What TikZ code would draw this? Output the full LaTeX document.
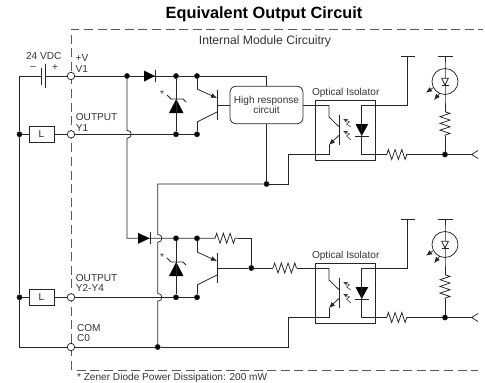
\documentclass[tikz,border=0pt]{standalone}
\usepackage{fontspec}
\setmainfont{Liberation Sans}
\usetikzlibrary{shapes,arrows.meta,decorations.pathmorphing}

\begin{document}
\begin{tikzpicture}[x=1pt,y=-1pt,
                every path/.style={line width=.75pt,color=black!85,>={Latex[length=6pt,width=5pt]}},
                term/.style={draw,circle,fill=white,inner sep=0pt,minimum size=7.5pt},
                dot/.style={draw,circle,fill=black,inner sep=0pt,minimum size=5pt},
                lbox/.style={draw,rectangle,inner sep=0pt,minimum width=25pt,minimum height=15.5pt,font=\fontsize{10}{12}\selectfont},
                lbl/.style={inner sep=0pt,anchor=west,text=black!80,font=\fontsize{10.1}{12}\selectfont},
                res/.style={decorate,decoration={zigzag,segment length=6.7pt,amplitude=5pt}},
                frame/.style={draw=black!65,dash pattern=on 9pt off 4.6pt},
                solid fill/.style={fill=black,draw=none}]
  \useasboundingbox (0,0) rectangle (485,383);
  \draw[frame] (71,370) -- (71,29.3) -- (483,29.3);
  \draw[frame] (76.7,370) -- (478,370);
  \node[lbl,anchor=center,font=\fontsize{16.3}{18}\selectfont\bfseries,text=black] (title) at (264,14.2) {Equivalent Output Circuit};
  \node[lbl,anchor=center,font=\fontsize{12.2}{14}\selectfont] (inner) at (265,41) {Internal Module Circuitry};
  \node[lbl,anchor=center] (vdc) at (43.7,55.7) {24 VDC};
  \node[lbl,anchor=center] (minus) at (33.3,68) {--};
  \node[lbl,anchor=center] (plus) at (55,68) {+};
  \node[lbl] (vtxt) at (75.3,58) {+V};
  \node[lbl] (vone) at (75.3,69) {V1};
  \node[lbl] (outa) at (75.5,117.3) {OUTPUT};
  \node[lbl] (yone) at (75.5,128) {Y1};
  \node[lbl] (outb) at (75.5,278.3) {OUTPUT};
  \node[lbl] (ytwo) at (75.5,288.3) {Y2-Y4};
  \node[lbl] (comt) at (76.7,328.3) {COM};
  \node[lbl] (czero) at (76.7,338.3) {C0};
  \node[lbl] (note) at (76.7,378) {* Zener Diode Power Dissipation: 200 mW};
  \node[term] (v1) at (71,76) {};
  \node[term] (y1) at (71,134.3) {};
  \node[term] (y2) at (71,297.3) {};
  \node[term] (c0) at (71,347) {};
  \node[dot]  (la) at (19.5,134.3) {};
  \node[dot]  (lb) at (19.5,297.3) {};
  \node[lbox] (l1) at (41.5,134.3) {L};
  \node[lbox] (l2) at (41.5,297.3) {L};
  \node[dot]  (va) at (127,76) {};
  \node[dot]  (vb) at (176,76) {};
  \node[dot]  (vc) at (197,76) {};
  \node[dot]  (oa) at (176,134.3) {};
  \node[dot]  (ob) at (197,134.3) {};
  \node[dot]  (pa) at (176,238.3) {};
  \node[dot]  (pb) at (197,238.3) {};
  \node[dot]  (qa) at (176,297.3) {};
  \node[dot]  (qb) at (197,297.3) {};
  \node[dot]  (com) at (157.7,347) {};
  \node[dot]  (jn) at (266.5,184) {};
  \node[dot]  (bn) at (251.3,268) {};
  \node[lbox,rounded corners=6pt,minimum width=73pt,minimum height=37.5pt,align=center,text=black!80,font=\fontsize{10.1}{10}\selectfont]
                   (hrc) at (266.5,105) {High response\\circuit};
  \coordinate (tl) at (19.5,76);
  \coordinate (bl) at (19.5,347);
  \coordinate (ca) at (41.7,76);
  \coordinate (cb) at (45.7,76);
  \coordinate (ja) at (127,130.3);
  \coordinate (jb) at (127,138.3);
  \coordinate (jc) at (127,238.3);
  \coordinate (jd) at (157.7,184);
  \coordinate (je) at (157.7,234.3);
  \coordinate (jf) at (157.7,242.3);
  \coordinate (jg) at (157.7,293.3);
  \coordinate (jh) at (157.7,301.3);
  \coordinate (ra) at (215,238.3);
  \coordinate (rb) at (238,238.3);
  \coordinate (rc) at (251.3,238.3);
  \coordinate (sa) at (273,268);
  \coordinate (sb) at (296.7,268);
  \coordinate (ua) at (288.7,184);
  \coordinate (ub) at (288.7,154.5);
  \coordinate (uc) at (288.7,347);
  \coordinate (ud) at (288.7,317.5);
  % both channels are the same apart from the height
  \foreach \n/\d in {a/0,b/163} {
    \coordinate (tc\n) at (197,89+\d);
    \coordinate (te\n) at (197,122+\d);
    \coordinate (tk\n) at (217,105+\d);
    \coordinate (tu\n) at (217,98+\d);
    \coordinate (td\n) at (217,112+\d);
    \draw (217,90+\d) -- (217,120+\d);
    \draw[->] (tc\n) -- (tu\n);
    \draw (te\n) -- (td\n);
    \fill[solid fill] (169,113+\d) -- (183.5,113+\d) -- (176.2,99+\d) -- cycle;
    \draw (167,95+\d) -- (171,99+\d) -- (183,99+\d) -- (186,102+\d);
    \node[lbl,anchor=center] (star\n) at (162,94+\d) {*};
    \node[draw,rectangle,inner sep=0pt,minimum width=60pt,minimum height=59.3pt] (iso\n) at (345.7,130.3+\d) {};
    \node[lbl,anchor=center] (isot\n) at (345.7,92.5+\d) {Optical Isolator};
    \coordinate (cu\n) at (329,105+\d);
    \coordinate (cd\n) at (329,117+\d);
    \coordinate (cs\n) at (339.3,127+\d);
    \coordinate (es\n) at (339.3,135+\d);
    \coordinate (eu\n) at (329,145+\d);
    \coordinate (ed\n) at (329,154.5+\d);
    \draw (339.3,115+\d) -- (339.3,145+\d);
    \draw (cu\n) -- (cd\n) -- (cs\n);
    \draw[->] (es\n) -- (eu\n);
    \draw (eu\n) -- (ed\n);
    \draw[line width=.5pt,-{Stealth[open,length=4.5pt,width=4pt]}] (351,127+\d) -- (346.5,124+\d) -- (349.5,122+\d) -- (343.3,119+\d);
    \draw[line width=.5pt,-{Stealth[open,length=4.5pt,width=4pt]}] (351,140+\d) -- (346.5,136+\d) -- (349.5,134+\d) -- (343.3,131+\d);
    \coordinate (au\n) at (361.7,105+\d);
    \coordinate (ad\n) at (361.7,154.5+\d);
    \fill[solid fill] (355.5,124+\d) -- (368.3,124+\d) -- (361.7,136+\d) -- cycle;
    \draw (355.3,136+\d) -- (368.5,136+\d);
    \draw (au\n) -- (ad\n);
    \coordinate (tt\n) at (407.7,56+\d);
    \coordinate (tb\n) at (407.7,105+\d);
    \draw (401.3,56+\d) -- (415.3,56+\d);
    \draw (tt\n) -- (tb\n) -- (au\n);
    \node[dot] (gd\n) at (445,154.5+\d) {};
    \coordinate (ra\n) at (386.7,154.5+\d);
    \coordinate (rb\n) at (410,154.5+\d);
    \coordinate (vx\n) at (471.7,154.5+\d);
    \draw (ad\n) -- (ra\n);
    \draw[res] (ra\n) -- (rb\n);
    \draw (rb\n) -- (gd\n) -- (vx\n);
    \draw (478,150.5+\d) -- (vx\n) -- (478,158.5+\d);
    \node[draw,circle,inner sep=0pt,minimum size=26pt] (lamp\n) at (445,81.5+\d) {};
    \coordinate (lt\n) at (445,56+\d);
    \coordinate (rv\n) at (445,111.7+\d);
    \coordinate (rw\n) at (445,136+\d);
    \draw (437.5,56+\d) -- (452.5,56+\d);
    \draw (lt\n) -- (lamp\n.north) -- (lamp\n.south) -- (rv\n);
    \draw[res] (rv\n) -- (rw\n);
    \draw (rw\n) -- (gd\n);
    \draw[fill=white] (441.7,78.3+\d) -- (448.3,78.3+\d) -- (445,85+\d) -- cycle;
    \draw (441.5,85+\d) -- (448.5,85+\d);
    \draw[->] (432.7,88+\d) -- (426,92.7+\d);
    \draw[->] (440,93+\d) -- (434,100+\d);
  }
  % left rail and battery
  \draw (tl) -- (la) -- (lb) -- (bl) -- (c0);
  \draw (tl) -- (ca);
  \draw (cb) -- (v1);
  \draw (41.7,68) -- (41.7,85);
  \draw (45.7,64) -- (45.7,88);
  \draw (la) -- (l1) -- (y1);
  \draw (lb) -- (l2) -- (y2);
  % first channel
  \draw (v1) -- (va) -- (vb) -- (vc) -| (hrc);
  \fill[solid fill] (144,70.5) -- (155,76) -- (144,81.5) -- cycle;
  \draw (155,70) -- (155,82);
  \draw (y1) -- (oa) -- (ob);
  \draw (vb) -- (oa);
  \draw (vc) -- (tca);
  \draw (tea) -- (ob);
  \draw (tka) -- (hrc);
  \draw (hrc) -- (cua);
  \draw (hrc) -- (jn) -- (ua) -- (ub) -- (eda);
  % second channel
  \draw (va) -- (ja) to[out=0,in=0,looseness=1.8] (jb) -- (jc) -- (pa) -- (pb) -- (ra);
  \fill[solid fill] (138,232.8) -- (149.7,238.3) -- (138,243.8) -- cycle;
  \draw (150,232.3) -- (150,244.3);
  \draw[res] (ra) -- (rb);
  \draw (rb) -- (rc) -- (bn);
  \draw (pa) -- (qa);
  \draw (pb) -- (tcb);
  \draw (teb) -- (qb);
  \draw (y2) -- (qa) -- (qb);
  \draw (tkb) -- (bn) -- (sa);
  \draw[res] (sa) -- (sb);
  \draw (sb) -- (cub);
  % common
  \draw (jn) -- (jd) -- (je) to[out=0,in=0,looseness=1.8] (jf) -- (jg) to[out=0,in=0,looseness=1.8] (jh) -- (com);
  \draw (c0) -- (com) -- (uc) -- (ud) -- (edb);
\end{tikzpicture}
\end{document}
